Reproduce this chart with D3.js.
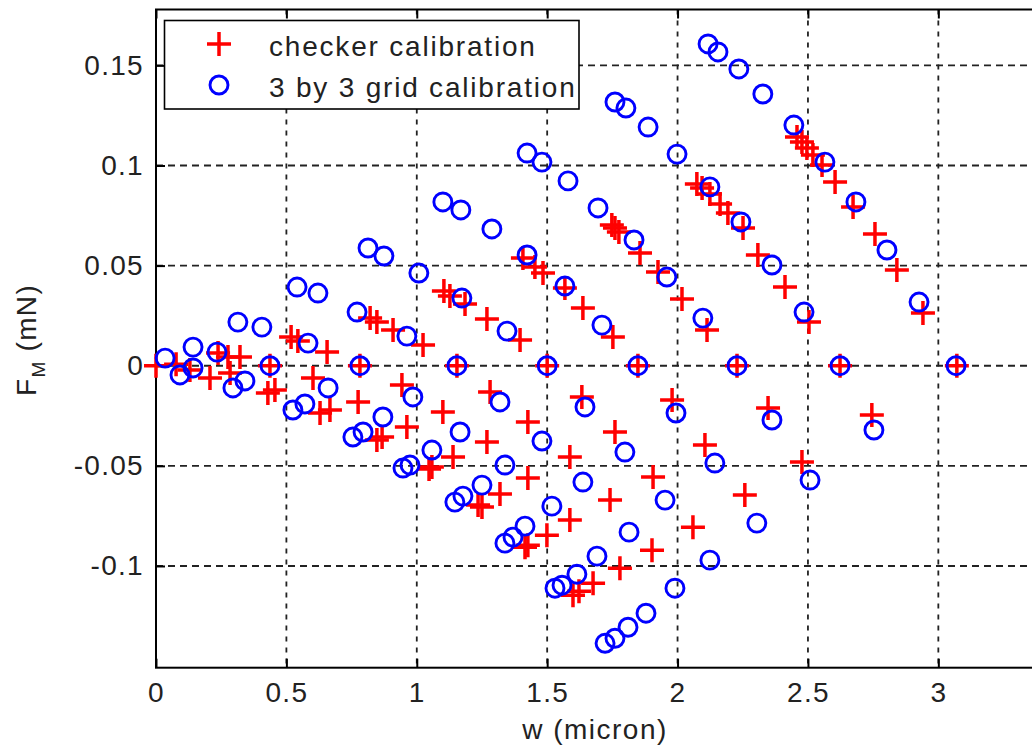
<!DOCTYPE html>
<html>
<head>
<meta charset="utf-8">
<script src="https://cdn.jsdelivr.net/npm/d3@7"></script>
<style>
  body { margin: 0; background: #fff; }
  svg { display: block; }
  text { font-family: "Liberation Sans", Arial, sans-serif; fill: #222; }
</style>
</head>
<body>
<div id="chart"></div>
<script>
const width = 1032
const height = 747

// checker calibration (red +), w in micron, F_M in mN
const checkerW = [
  2.458, 2.477, 2.496, 2.519, 2.554, 2.604, 2.673, 2.757, 2.841, 2.941, 3.071,
  2.074, 2.094, 2.124, 2.163, 2.193, 2.251, 2.308, 2.412, 2.504, 2.623,
  1.748, 1.760, 1.775, 1.856, 1.925, 2.017, 2.113, 2.228,
  1.407, 1.453, 1.484, 1.568, 1.637, 1.752, 1.848,
  1.104, 1.127, 1.185, 1.269, 1.396, 1.500,
  0.821, 0.847, 0.909, 1.024, 1.154,
  0.518, 0.544, 0.656, 0.782,
  0.238, 0.276, 0.322, 0.437,
  0, 0.077, 0.130,
  2.745, 2.477, 2.258, 2.059, 1.902, 1.779, 1.676, 1.622, 1.599,
  2.347, 2.105, 1.906, 1.741, 1.587, 1.499, 1.426, 1.415,
  1.979, 1.760, 1.587, 1.426, 1.319, 1.235, 1.250,
  1.633, 1.426, 1.269, 1.139, 1.058, 1.047,
  1.281, 1.100, 0.962, 0.867, 0.847,
  0.943, 0.775, 0.667, 0.629,
  0.602, 0.456, 0.429,
  0.284, 0.207
]
const checkerF = [
  0.1142, 0.1117, 0.1087, 0.1052, 0.1002, 0.0918, 0.0793, 0.0658, 0.0478, 0.0263, 0,
  0.0908, 0.0888, 0.0858, 0.0808, 0.0763, 0.0688, 0.0553, 0.0393, 0.0218, 0,
  0.0703, 0.0688, 0.0668, 0.0563, 0.0468, 0.0333, 0.0178, 0,
  0.0538, 0.0493, 0.0463, 0.0388, 0.0288, 0.0143, 0,
  0.0373, 0.0348, 0.0308, 0.0233, 0.0128, 0,
  0.0238, 0.0218, 0.0178, 0.0103, 0,
  0.0143, 0.0123, 0.0068, 0,
  0.0063, 0.0043, 0.0043, 0,
  0, 0.0008, -0.0021,
  -0.0246, -0.0481, -0.0646, -0.0806, -0.0921, -0.1011, -0.1086, -0.1126, -0.1146,
  -0.0211, -0.0396, -0.0556, -0.0671, -0.0771, -0.0846, -0.0896, -0.0906,
  -0.0171, -0.0331, -0.0456, -0.0561, -0.0641, -0.0696, -0.0706,
  -0.0156, -0.0281, -0.0381, -0.0456, -0.0506, -0.0516,
  -0.0131, -0.0231, -0.0306, -0.0356, -0.0371,
  -0.0096, -0.0181, -0.0221, -0.0236,
  -0.0061, -0.0121, -0.0136,
  -0.0036, -0.0061
]

// 3 by 3 grid calibration (blue o)
const gridW = [
  2.117, 2.155, 2.235, 2.327, 2.446, 2.565, 2.684, 2.803, 2.926, 3.068,
  1.760, 1.802, 1.887, 1.998, 2.124, 2.243, 2.362, 2.485, 2.623,
  1.423, 1.480, 1.580, 1.695, 1.833, 1.959, 2.097, 2.228,
  1.100, 1.169, 1.288, 1.423, 1.568, 1.710, 1.848,
  0.813, 0.874, 1.008, 1.173, 1.346, 1.500,
  0.541, 0.621, 0.771, 0.962, 1.154,
  0.314, 0.406, 0.583, 0.782,
  0.142, 0.234, 0.437,
  0.035, 0.142, 0.092,
  2.753, 2.508, 2.304, 2.124, 1.990, 1.879, 1.810, 1.760, 1.722,
  2.362, 2.143, 1.952, 1.814, 1.691, 1.614, 1.557, 1.530,
  1.994, 1.798, 1.637, 1.518, 1.415, 1.369, 1.338,
  1.645, 1.480, 1.338, 1.250, 1.177, 1.146,
  1.319, 1.166, 1.058, 0.974, 0.947,
  0.985, 0.870, 0.794, 0.755,
  0.660, 0.571, 0.525,
  0.341, 0.295
]
const gridF = [
  0.1607, 0.1567, 0.1482, 0.1357, 0.1202, 0.1017, 0.0818, 0.0578, 0.0318, 0,
  0.1317, 0.1287, 0.1192, 0.1057, 0.0893, 0.0718, 0.0503, 0.0268, 0,
  0.1062, 0.1017, 0.0923, 0.0788, 0.0628, 0.0443, 0.0238, 0,
  0.0818, 0.0778, 0.0683, 0.0553, 0.0398, 0.0203, 0,
  0.0588, 0.0548, 0.0463, 0.0338, 0.0173, 0,
  0.0393, 0.0363, 0.0268, 0.0148, 0,
  0.0218, 0.0193, 0.0113, 0,
  0.0093, 0.0068, 0,
  0.0038, -0.0011, -0.0046,
  -0.0321, -0.0571, -0.0786, -0.0971, -0.1111, -0.1236, -0.1306, -0.1361, -0.1386,
  -0.0271, -0.0486, -0.0671, -0.0831, -0.0951, -0.1041, -0.1096, -0.1111,
  -0.0236, -0.0431, -0.0581, -0.0701, -0.0801, -0.0856, -0.0886,
  -0.0206, -0.0376, -0.0496, -0.0596, -0.0651, -0.0681,
  -0.0181, -0.0331, -0.0421, -0.0496, -0.0511,
  -0.0156, -0.0256, -0.0331, -0.0356,
  -0.0111, -0.0191, -0.0221,
  -0.0076, -0.0111
]

const xTicks = [0, 0.5, 1, 1.5, 2, 2.5, 3]
const yTicks = [-0.1, -0.05, 0, 0.05, 0.1, 0.15]
const seriesNames = ["checker calibration", "3 by 3 grid calibration"]

const plotL = 156, plotR = 1033, plotT = 9.5, plotB = 667.7

let x = d3.scaleLinear().domain([0, 3.363]).range([plotL, plotR])
let y = d3.scaleLinear().domain([-0.1508, 0.1779]).range([plotB, plotT])

let svg = d3.select("#chart")
            .append("svg")
            .attr("width", width)
            .attr("height", height)

svg.append("rect").attr("width", width).attr("height", height).attr("fill", "#fff")

// dashed grid
let grid = svg.append("g").attr("stroke", "#222").attr("stroke-width", 1.8)
grid.selectAll(".gx").data(xTicks).enter().append("line")
    .attr("x1", d => x(d)).attr("x2", d => x(d))
    .attr("y1", plotT).attr("y2", plotB)
    .attr("stroke-dasharray", "5,6")
grid.selectAll(".gy").data(yTicks).enter().append("line")
    .attr("y1", d => y(d)).attr("y2", d => y(d))
    .attr("x1", plotL).attr("x2", plotR)
    .attr("stroke-dasharray", "7,5")

function styleAxis(g) {
  g.select(".domain").remove()
  g.selectAll(".tick line").attr("stroke", "#000").attr("stroke-width", 2)
  g.selectAll(".tick text")
   .attr("font-family", "Liberation Sans, Arial, sans-serif")
   .attr("font-size", 28)
   .attr("letter-spacing", 1.3)
   .attr("fill", "#222")
}

svg.append("g")
   .attr("transform", `translate(0,${plotB})`)
   .call(d3.axisBottom(x).tickValues(xTicks).tickSize(-9).tickPadding(14).tickFormat(d => String(d)))
   .call(styleAxis)
svg.append("g")
   .attr("transform", `translate(0,${plotT})`)
   .call(d3.axisTop(x).tickValues(xTicks).tickSize(-9).tickFormat(""))
   .call(styleAxis)
svg.append("g")
   .attr("transform", `translate(${plotL},0)`)
   .call(d3.axisLeft(y).tickValues(yTicks).tickSize(-9).tickPadding(12).tickFormat(d => String(d)))
   .call(styleAxis)

// box
svg.append("rect")
   .attr("x", plotL).attr("y", plotT)
   .attr("width", plotR - plotL).attr("height", plotB - plotT)
   .attr("fill", "none").attr("stroke", "#000").attr("stroke-width", 2)

const plus = "M-12,0H12M0,-12V12"

// checker calibration markers
svg.append("g").selectAll("path")
   .data(checkerW.map((w, i) => [w, checkerF[i]]))
   .enter().append("path")
   .attr("d", plus)
   .attr("transform", d => `translate(${x(d[0])},${y(d[1])})`)
   .attr("stroke", "#ff0000").attr("stroke-width", 3.5).attr("fill", "none")

// grid calibration markers
svg.append("g").selectAll("circle")
   .data(gridW.map((w, i) => [w, gridF[i]]))
   .enter().append("circle")
   .attr("cx", d => x(d[0])).attr("cy", d => y(d[1])).attr("r", 9)
   .attr("stroke", "#0000ff").attr("stroke-width", 2.9).attr("fill", "none")

// axis labels
svg.append("text")
   .attr("x", 595).attr("y", 739)
   .attr("text-anchor", "middle").attr("font-size", 28).attr("letter-spacing", 1.5)
   .text("w (micron)")

let yl = svg.append("text")
   .attr("transform", "translate(36,340) rotate(-90)")
   .attr("text-anchor", "middle").attr("font-size", 28).attr("letter-spacing", 1.3)
yl.append("tspan").text("F")
yl.append("tspan").attr("font-size", 19).attr("dy", 9).text("M")
yl.append("tspan").attr("dy", -9).text(" (mN)")

// legend
let legend = svg.append("g").attr("id", "legend")
legend.append("rect")
      .attr("x", 164.5).attr("y", 20.5).attr("width", 414.5).attr("height", 88.5)
      .attr("fill", "#fff").attr("stroke", "#000").attr("stroke-width", 1.6)
legend.append("path").attr("d", plus)
      .attr("transform", "translate(219,44)")
      .attr("stroke", "#ff0000").attr("stroke-width", 3.5)
legend.append("circle").attr("cx", 219).attr("cy", 85).attr("r", 9)
      .attr("stroke", "#0000ff").attr("stroke-width", 2.9).attr("fill", "none")
legend.selectAll(".lt").data(seriesNames).enter().append("text")
      .attr("x", 269).attr("y", (d, i) => 56 + i * 41)
      .attr("font-size", 28).attr("letter-spacing", 1.8)
      .text(d => d)
</script>
</body>
</html>
